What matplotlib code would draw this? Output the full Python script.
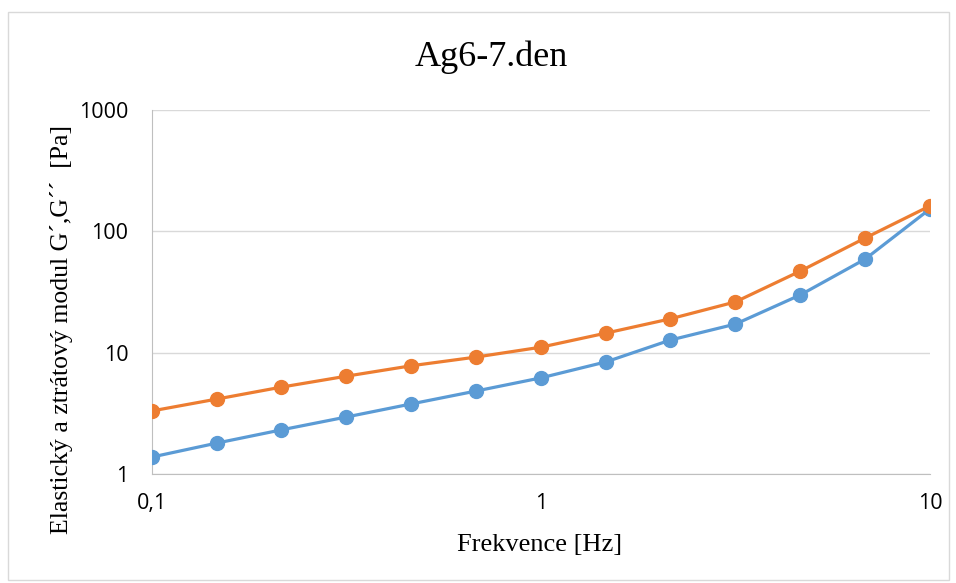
import matplotlib.pyplot as plt
from matplotlib.ticker import FixedLocator, FixedFormatter, NullLocator
from matplotlib.patches import Rectangle

# frequency sweep, 5 points per decade
freq = [0.1, 0.147, 0.215, 0.316, 0.464, 0.681, 1.0, 1.47, 2.15, 3.16, 4.64, 6.81, 10.0]
g_elastic = [1.38, 1.80, 2.31, 2.95, 3.78, 4.83, 6.2, 8.4, 12.7, 17.2, 29.9, 59.0, 153.0]
g_loss = [3.31, 4.15, 5.2, 6.4, 7.8, 9.2, 11.1, 14.5, 19.0, 26.2, 47.0, 88.0, 162.0]

x_ticks = [0.1, 1, 10]
x_labels = ['0,1', '1', '10']
y_ticks = [1, 10, 100, 1000]
y_labels = ['1', '10', '100', '1000']

plt.rcParams['font.family'] = 'Open Sans'

W, H = 956, 583
fig = plt.figure(figsize=(W / 100, H / 100), dpi=100)
fig.patches.append(Rectangle((8 / W, 3 / H), 941 / W, 568 / H, transform=fig.transFigure,
                             fill=False, edgecolor='#d9d9d9', linewidth=1))
ax = fig.add_axes([152 / W, 109 / H, 778 / W, 364 / H])

ax.plot(freq, g_elastic, '-o', color='#5B9BD5', lw=2.3, ms=10, zorder=3)
ax.plot(freq, g_loss, '-o', color='#ED7D31', lw=2.3, ms=10, zorder=3)

ax.set_xscale('log')
ax.set_yscale('log')
ax.set_xlim(0.1, 10)
ax.set_ylim(1, 1000)

ax.xaxis.set_major_locator(FixedLocator(x_ticks))
ax.xaxis.set_major_formatter(FixedFormatter(x_labels))
ax.xaxis.set_minor_locator(NullLocator())
ax.yaxis.set_major_locator(FixedLocator(y_ticks))
ax.yaxis.set_major_formatter(FixedFormatter(y_labels))
ax.yaxis.set_minor_locator(NullLocator())

ax.grid(axis='y', color='#d9d9d9', lw=1)
ax.set_axisbelow(True)
for s in ['top', 'right']:
    ax.spines[s].set_visible(False)
for s in ['left', 'bottom']:
    ax.spines[s].set_color('#bfbfbf')
ax.tick_params(axis='x', length=0, labelsize=15.5, pad=14)
ax.tick_params(axis='y', length=0, labelsize=15.5, pad=17)

fig.text(491 / W, 1 - 57 / H, 'Ag6-7.den', fontsize=26, family='Liberation Serif',
         ha='center', va='center')
fig.text(540 / W, 1 - 545 / H, 'Frekvence [Hz]', fontsize=19, family='Liberation Serif',
         ha='center', va='center')
fig.text(62 / W, 1 - 330 / H, 'Elastický a ztrátový modul G´,G´´  [Pa]', fontsize=18.5,
         family='Liberation Serif', ha='center', va='center', rotation=90)

fig.savefig('out.png', dpi=100)
